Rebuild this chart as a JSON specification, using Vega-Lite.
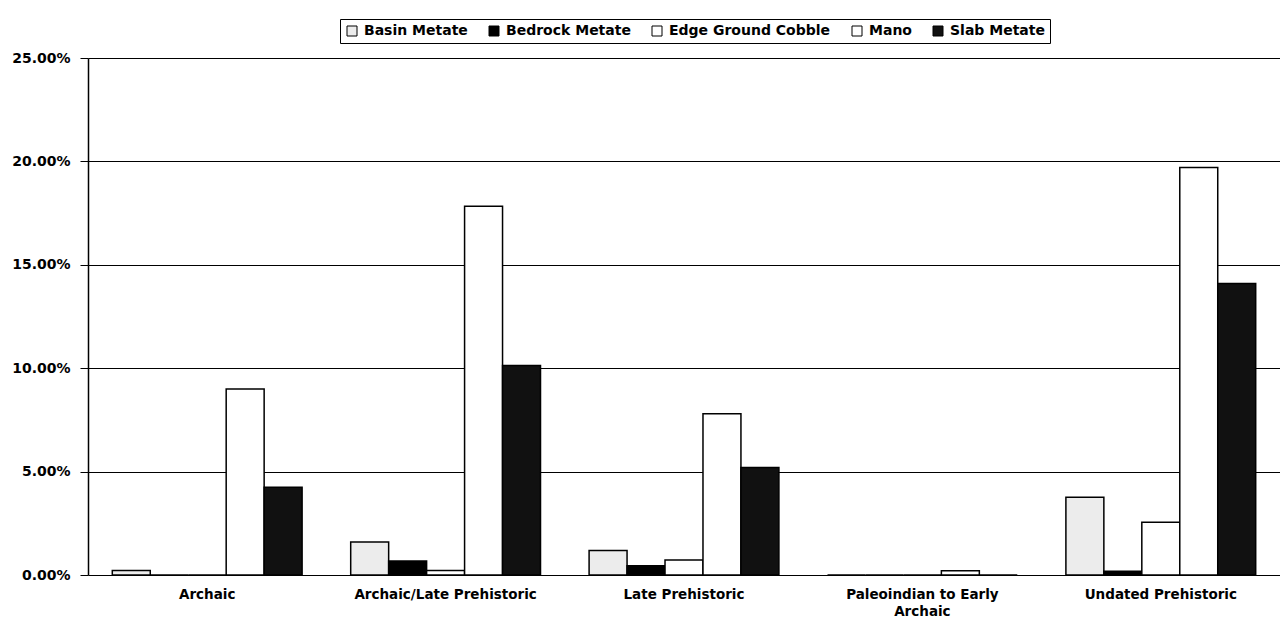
{
  "$schema": "https://vega.github.io/schema/vega-lite/v6.json",
  "width": 1192,
  "height": 517,
  "autosize": {"type": "none"},
  "padding": {"left": 88, "top": 58, "right": 0, "bottom": 56},
  "background": "white",
  "data": {
    "values": [
      {"period": "Archaic", "type": "Basin Metate", "pct": 0.0022},
      {"period": "Archaic", "type": "Bedrock Metate", "pct": 0},
      {"period": "Archaic", "type": "Edge Ground Cobble", "pct": 0},
      {"period": "Archaic", "type": "Mano", "pct": 0.0899},
      {"period": "Archaic", "type": "Slab Metate", "pct": 0.0424},
      {"period": "Archaic/Late Prehistoric", "type": "Basin Metate", "pct": 0.016},
      {"period": "Archaic/Late Prehistoric", "type": "Bedrock Metate", "pct": 0.0068},
      {"period": "Archaic/Late Prehistoric", "type": "Edge Ground Cobble", "pct": 0.0022},
      {"period": "Archaic/Late Prehistoric", "type": "Mano", "pct": 0.1783},
      {"period": "Archaic/Late Prehistoric", "type": "Slab Metate", "pct": 0.1013},
      {"period": "Late Prehistoric", "type": "Basin Metate", "pct": 0.0118},
      {"period": "Late Prehistoric", "type": "Bedrock Metate", "pct": 0.0045},
      {"period": "Late Prehistoric", "type": "Edge Ground Cobble", "pct": 0.0073},
      {"period": "Late Prehistoric", "type": "Mano", "pct": 0.078},
      {"period": "Late Prehistoric", "type": "Slab Metate", "pct": 0.052},
      {"period": "Paleoindian to Early Archaic", "type": "Basin Metate", "pct": 0},
      {"period": "Paleoindian to Early Archaic", "type": "Bedrock Metate", "pct": 0},
      {"period": "Paleoindian to Early Archaic", "type": "Edge Ground Cobble", "pct": 0},
      {"period": "Paleoindian to Early Archaic", "type": "Mano", "pct": 0.002},
      {"period": "Paleoindian to Early Archaic", "type": "Slab Metate", "pct": 0},
      {"period": "Undated Prehistoric", "type": "Basin Metate", "pct": 0.0376},
      {"period": "Undated Prehistoric", "type": "Bedrock Metate", "pct": 0.0018},
      {"period": "Undated Prehistoric", "type": "Edge Ground Cobble", "pct": 0.0255},
      {"period": "Undated Prehistoric", "type": "Mano", "pct": 0.197},
      {"period": "Undated Prehistoric", "type": "Slab Metate", "pct": 0.141}
    ]
  },
  "mark": {"type": "bar", "stroke": "black", "strokeWidth": 1.5},
  "encoding": {
    "x": {
      "field": "period",
      "type": "nominal",
      "sort": null,
      "scale": {"paddingInner": 0, "paddingOuter": 0},
      "axis": {
        "title": null,
        "labelAngle": 0,
        "ticks": false,
        "domain": false,
        "labelPadding": 12,
        "labelLimit": 400,
        "labelFont": "DejaVu Sans",
        "labelFontSize": 13.5,
        "labelFontWeight": "bold",
        "labelColor": "black",
        "labelLineHeight": 17,
        "labelExpr": "datum.label == 'Paleoindian to Early Archaic' ? ['Paleoindian to Early', 'Archaic'] : datum.label"
      }
    },
    "xOffset": {
      "field": "type",
      "type": "nominal",
      "sort": ["Basin Metate", "Bedrock Metate", "Edge Ground Cobble", "Mano", "Slab Metate"],
      "scale": {"paddingInner": 0, "paddingOuter": 0.64}
    },
    "y": {
      "field": "pct",
      "type": "quantitative",
      "scale": {"domain": [0, 0.25], "nice": false},
      "axis": {
        "title": null,
        "values": [0, 0.05, 0.1, 0.15, 0.2, 0.25],
        "format": ".2%",
        "grid": true,
        "gridColor": "black",
        "gridOpacity": 1,
        "gridWidth": 1,
        "domainColor": "black",
        "domainWidth": 1.5,
        "tickColor": "black",
        "tickSize": 8,
        "labelPadding": 10,
        "labelFont": "DejaVu Sans",
        "labelFontSize": 14,
        "labelFontWeight": "bold",
        "labelColor": "black"
      }
    },
    "fill": {
      "field": "type",
      "type": "nominal",
      "sort": ["Basin Metate", "Bedrock Metate", "Edge Ground Cobble", "Mano", "Slab Metate"],
      "scale": {
        "domain": ["Basin Metate", "Bedrock Metate", "Edge Ground Cobble", "Mano", "Slab Metate"],
        "range": ["#ececec", "#000000", "#ffffff", "#ffffff", "#111111"]
      },
      "legend": {
        "title": null,
        "orient": "none",
        "legendX": 252,
        "legendY": -39,
        "direction": "horizontal",
        "columns": 5,
        "columnPadding": 19,
        "symbolType": "square",
        "symbolSize": 100,
        "symbolStrokeColor": "black",
        "symbolStrokeWidth": 1,
        "symbolOffset": 0,
        "labelOffset": 5,
        "labelLimit": 400,
        "labelFont": "DejaVu Sans",
        "labelFontSize": 14,
        "labelFontWeight": "bold",
        "labelColor": "black",
        "strokeColor": "black",
        "fillColor": "white",
        "padding": 5
      }
    }
  },
  "config": {
    "view": {"stroke": null},
    "axis": {"gridColor": "black"}
  }
}
